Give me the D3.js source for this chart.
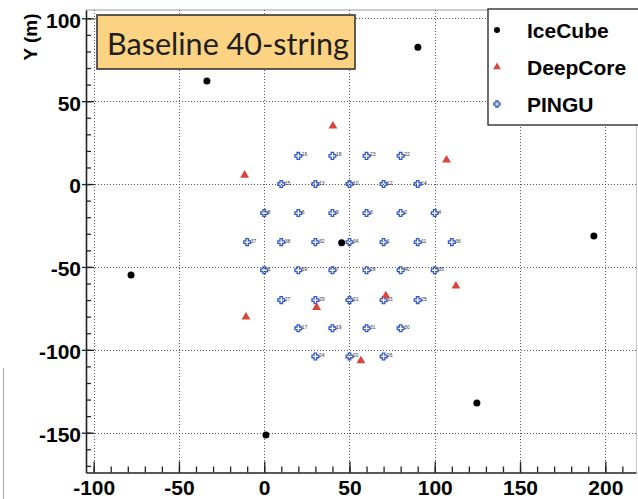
<!DOCTYPE html>
<html>
<head>
<meta charset="utf-8">
<script src="https://cdn.jsdelivr.net/npm/d3@7"></script>
<style>
  html, body { margin: 0; padding: 0; background: #fff; }
  svg { display: block; }
</style>
</head>
<body>
<svg id="chart" width="638" height="499"></svg>
<script>
// IceCube strings (m)
const iceX = [-33.6, 90.1, -78.1, 45.4, 193.3, 124.7, 1.0];
const iceY = [62.1, 82.6, -54.9, -35.4, -31.4, -132.1, -151.4];

// DeepCore strings (m)
const deepX = [-11.5, 40.3, 106.9, 112.4, 71.3, 30.7, -10.7, 56.7];
const deepY = [5.4, 35.0, 14.5, -61.5, -67.4, -74.4, -80.2, -106.6];

// PINGU strings (m) with their string numbers
const pinguX = [
  20, 40, 60, 80,
  10, 30, 50, 70, 90,
  0, 20, 40, 60, 80, 100,
  -10, 10, 30, 50, 70, 90, 110,
  0, 20, 40, 60, 80, 100,
  10, 30, 50, 70, 90,
  20, 40, 60, 80,
  30, 50, 70
];
const pinguY = [
  17, 17, 17, 17,
  0, 0, 0, 0, 0,
  -17.5, -17.5, -17.5, -17.5, -17.5, -17.5,
  -35, -35, -35, -35, -35, -35, -35,
  -52, -52, -52, -52, -52, -52,
  -70, -70, -70, -70, -70,
  -87, -87, -87, -87,
  -104, -104, -104
];
const pinguId = [
  "16", "18", "23", "22",
  "15", "13", "10", "12", "14",
  "8", "6", "9", "3", "2", "4",
  "37", "38", "32", "34", "1", "11", "36",
  "5", "39", "7", "28", "40", "35",
  "27", "29", "21", "33", "25",
  "17", "19", "31", "30",
  "24", "20", "26"
];

// Axis ticks
const xTicks = [-100, -50, 0, 50, 100, 150, 200];
const yTicks = [100, 50, 0, -50, -100, -150];
const xMinor = d3.range(-100, 219, 10);
const yMinor = d3.range(-170, 105, 10);

const legendNames = ["IceCube", "DeepCore", "PINGU"];
const titleText = "Baseline 40-string";

const svg = d3.select("#chart");
const x = d3.scaleLinear().domain([-104.5, 218]).range([86, 636]);
const y = d3.scaleLinear().domain([-174, 105]).range([472.5, 10]);

const plotLeft = x.range()[0], plotRight = x.range()[1];
const plotTop = y.range()[1], plotBottom = y.range()[0];
const plainNumber = d => String(d);

svg.append("rect").attr("width", 638).attr("height", 499).attr("fill", "#fff");

// frame top / right edges
svg.append("line").attr("x1", plotLeft).attr("x2", 638).attr("y1", plotTop).attr("y2", plotTop)
  .attr("stroke", "#9a9a9a").attr("stroke-width", 1);
svg.append("line").attr("x1", plotRight + 0.5).attr("x2", plotRight + 0.5).attr("y1", plotTop).attr("y2", plotBottom)
  .attr("stroke", "#c8c8c8").attr("stroke-width", 1);

// dotted grid
const grid = svg.append("g").attr("stroke", "#555").attr("stroke-width", 1)
  .attr("stroke-dasharray", "1 2").attr("fill", "none");
grid.selectAll("line.v").data(xTicks).join("line").attr("class", "v")
  .attr("x1", d => Math.round(x(d)) + 0.5).attr("x2", d => Math.round(x(d)) + 0.5)
  .attr("y1", plotTop).attr("y2", plotBottom);
grid.selectAll("line.h").data(yTicks).join("line").attr("class", "h")
  .attr("x1", plotLeft).attr("x2", 638)
  .attr("y1", d => Math.round(y(d)) + 0.5).attr("y2", d => Math.round(y(d)) + 0.5);

// axes
const axisFont = "bold 21px 'Liberation Sans', Arial, sans-serif";
function styleAxis(g) {
  g.select(".domain").attr("stroke", "#222").attr("stroke-width", 1.6);
  g.selectAll(".tick line").attr("stroke", "#222").attr("stroke-width", 1.3);
  g.selectAll("text").attr("fill", "#000").style("font", axisFont);
}

// left axis: minor ticks inside, major ticks crossing the axis
svg.append("g").attr("transform", `translate(${plotLeft},0)`)
  .call(d3.axisLeft(y).tickValues(yMinor).tickSize(-5).tickSizeOuter(0).tickFormat(""))
  .call(styleAxis);
svg.append("g").attr("transform", `translate(${plotLeft},0)`)
  .call(d3.axisLeft(y).tickValues(yTicks).tickSize(-8).tickSizeOuter(0).tickFormat(""))
  .call(styleAxis).select(".domain").remove();
svg.append("g").attr("transform", `translate(${plotLeft},0)`)
  .call(d3.axisLeft(y).tickValues(yTicks).tickSize(4).tickSizeOuter(0).tickPadding(1).tickFormat(plainNumber))
  .call(styleAxis)
  .call(g => g.selectAll("text").attr("dy", "0.42em"))
  .select(".domain").remove();

// bottom axis
svg.append("g").attr("transform", `translate(0,${plotBottom})`)
  .call(d3.axisBottom(x).tickValues(xMinor).tickSize(-6).tickSizeOuter(0).tickFormat(""))
  .call(styleAxis);
svg.append("g").attr("transform", `translate(0,${plotBottom})`)
  .call(d3.axisBottom(x).tickValues(xTicks).tickSize(-11).tickSizeOuter(0).tickPadding(8).tickFormat(plainNumber))
  .call(styleAxis)
  .call(g => g.selectAll("text").attr("y", 8))
  .select(".domain").remove();

// axis title
svg.append("text")
  .attr("transform", "translate(37,37) rotate(-90)")
  .attr("text-anchor", "middle")
  .style("font", "bold 19px 'Liberation Sans', Arial, sans-serif")
  .attr("fill", "#000")
  .text("Y (m)");

// marker shapes
const triPath = d3.symbol().type(d3.symbolTriangle).size(34);
function crossPath(s) {
  const a = s * 0.38, b = s;
  return `M${-a},${-b}H${a}V${-a}H${b}V${a}H${a}V${b}H${-a}V${a}H${-b}V${-a}H${-a}Z`;
}
const pinguColor = "#3558c8";
const deepColor = "#d9453b";

// PINGU strings
const pingu = svg.append("g");
pingu.selectAll("path").data(pinguX).join("path")
  .attr("d", crossPath(3.4))
  .attr("transform", (d, i) => `translate(${x(d)},${y(pinguY[i])})`)
  .attr("fill", "none").attr("stroke", pinguColor).attr("stroke-width", 1.3);
pingu.selectAll("text").data(pinguX).join("text")
  .attr("x", (d, i) => x(d) + 3.5)
  .attr("y", (d, i) => y(pinguY[i]) + 0.5)
  .style("font", "5px 'Liberation Sans', Arial, sans-serif")
  .attr("fill", "#333")
  .text((d, i) => pinguId[i]);

// DeepCore strings
svg.append("g").selectAll("path").data(deepX).join("path")
  .attr("d", triPath)
  .attr("transform", (d, i) => `translate(${x(d)},${y(deepY[i])})`)
  .attr("fill", deepColor);

// IceCube strings
svg.append("g").selectAll("circle").data(iceX).join("circle")
  .attr("cx", d => x(d)).attr("cy", (d, i) => y(iceY[i]))
  .attr("r", 3.5).attr("fill", "#000");

// title box
const tb = svg.append("g");
tb.append("rect").attr("x", 97).attr("y", 15).attr("width", 258).attr("height", 54)
  .attr("fill", "#fcd383").attr("stroke", "#2a2a2a").attr("stroke-width", 1.5);
const tt = tb.append("text").attr("x", 107).attr("y", 55)
  .style("font", "30px Lato, 'Open Sans', sans-serif").attr("fill", "#1e1e1e")
  .text(titleText);
const tw = tt.node().getComputedTextLength();
tt.style("font-size", (30 * 242 / tw) + "px");

// legend
const lg = svg.append("g");
lg.append("rect").attr("x", 488).attr("y", 9).attr("width", 200).attr("height", 116)
  .attr("fill", "#fff").attr("stroke", "#222").attr("stroke-width", 1.3);
const ly = [30, 67, 104];
lg.append("circle").attr("cx", 497).attr("cy", ly[0]).attr("r", 3).attr("fill", "#000");
lg.append("path").attr("d", d3.symbol().type(d3.symbolTriangle).size(26))
  .attr("transform", `translate(497,${ly[1]})`).attr("fill", deepColor);
lg.append("path").attr("d", crossPath(3))
  .attr("transform", `translate(497,${ly[2]})`)
  .attr("fill", "none").attr("stroke", pinguColor).attr("stroke-width", 1.3);
lg.selectAll("text").data(legendNames).join("text")
  .attr("x", 527).attr("y", (d, i) => ly[i] + 7.5)
  .style("font", "bold 21px 'Liberation Sans', Arial, sans-serif")
  .attr("fill", "#000")
  .text(d => d);

// page edge line at lower left
svg.append("line").attr("x1", 3.5).attr("x2", 3.5).attr("y1", 368).attr("y2", 499)
  .attr("stroke", "#aaa").attr("stroke-width", 1);
</script>
</body>
</html>
